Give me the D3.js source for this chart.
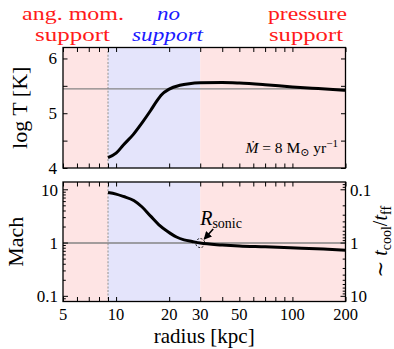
<!DOCTYPE html>
<html><head><meta charset="utf-8">
<script src="https://cdn.jsdelivr.net/npm/d3@7"></script>
<style>
body{margin:0;background:#fff} svg{display:block}
svg text{font-family:"Liberation Serif","DejaVu Serif","Times New Roman",serif;}
</style>
</head><body>
<script>
// ---- data ----
const radiusT = [9, 10, 11, 12.5, 14, 15.7, 17, 18, 20, 23, 26, 30, 40, 50, 70, 100, 140, 200];
const logT    = [4.19, 4.27, 4.42, 4.61, 4.82, 5.05, 5.22, 5.33, 5.44, 5.51, 5.54, 5.555, 5.56, 5.55, 5.52, 5.48, 5.45, 5.42];
const radiusM = [9, 10, 11, 12.6, 14, 15.7, 17.5, 19.6, 22, 24.3, 27, 30, 40, 50, 70, 113, 150, 200];
const mach    = [8.9, 8.3, 7.5, 6.3, 4.8, 3.2, 2.2, 1.65, 1.3, 1.15, 1.07, 1.0, 0.92, 0.88, 0.85, 0.8, 0.77, 0.73];
const xTickLabels = [5, 10, 20, 30, 50, 100, 200];
const xMinorTicks = [6, 7, 8, 9, 40, 60, 70, 80, 90];
const tTickLabels = [4, 5, 6];
const tMinorTicks = [4.5, 5.5];
const machTickLabels = [0.1, 1, 10];
const ratioTickLabels = [0.1, 1, 10];
const regionEdges = [5, 9, 30, 200];
const regionNames = [["ang. mom.", "support"], ["no", "support"], ["pressure", "support"]];
const tReference = 5.445;
const machReference = 1;
const rSonic = 30;

// ---- layout ----
const W = 394, H = 349;
const X0 = 63, X1 = 345.5;
const topP = {y0: 47.5, y1: 168};
const botP = {y0: 182, y1: 301.5};
const pink = "#fee4e4", lav = "#e4e4fb";
const serif = "Liberation Serif";

const svg = d3.select("body").append("svg").attr("width", W).attr("height", H);

const x = d3.scaleLog().domain([5, 200]).range([X0, X1]);
const yT = d3.scaleLinear().domain([4, 6.2]).range([topP.y1, topP.y0]);
const yM = d3.scaleLog().domain([0.08, 14]).range([botP.y1, botP.y0]);
const yR = d3.scaleLog().domain([1/14, 1/0.08]).range([botP.y0, botP.y1]);

function panel(p) {
  const g = svg.append("g");
  const fills = [pink, lav, pink];
  for (let i = 0; i < 3; i++) {
    g.append("rect").attr("x", x(regionEdges[i])).attr("y", p.y0)
      .attr("width", x(regionEdges[i+1]) - x(regionEdges[i])).attr("height", p.y1 - p.y0)
      .attr("fill", fills[i]);
  }
  g.append("line").attr("x1", x(regionEdges[1])).attr("x2", x(regionEdges[1]))
    .attr("y1", p.y0).attr("y2", p.y1).attr("stroke", "#a0a0a0").attr("stroke-width", 1.2)
    .attr("stroke-dasharray", "2,1.6");
  return g;
}
const gTop = panel(topP);
const gBot = panel(botP);

// reference lines
gTop.append("line").attr("x1", X0).attr("x2", X1).attr("y1", yT(tReference)).attr("y2", yT(tReference))
  .attr("stroke", "#858585").attr("stroke-width", 1.4);
gBot.append("line").attr("x1", X0).attr("x2", X1).attr("y1", yM(machReference)).attr("y2", yM(machReference))
  .attr("stroke", "#858585").attr("stroke-width", 1.4);

// curves
const lineT = d3.line().x((d, i) => x(radiusT[i])).y(d => yT(d)).curve(d3.curveMonotoneX);
gTop.append("path").attr("d", lineT(logT)).attr("fill", "none").attr("stroke", "#000").attr("stroke-width", 3);
const lineM = d3.line().x((d, i) => x(radiusM[i])).y(d => yM(d)).curve(d3.curveMonotoneX);
gBot.append("path").attr("d", lineM(mach)).attr("fill", "none").attr("stroke", "#000").attr("stroke-width", 3);

// axes (inward ticks)
function styleAxis(g) {
  g.select(".domain").remove();
  g.selectAll(".tick line").attr("stroke", "#000").attr("stroke-width", 1);
}
function xAxes(p, withLabels) {
  const vals = xTickLabels.concat(xMinorTicks);
  const bAxis = d3.axisBottom(x).tickValues(vals).tickSizeInner(-4.5).tickSizeOuter(0).tickFormat("");
  const tAxis = d3.axisTop(x).tickValues(vals).tickSizeInner(-4.5).tickSizeOuter(0).tickFormat("");
  svg.append("g").attr("transform", `translate(0,${p.y1})`).call(bAxis).call(styleAxis);
  svg.append("g").attr("transform", `translate(0,${p.y0})`).call(tAxis).call(styleAxis);
  if (withLabels) {
    svg.append("g").selectAll("text").data(xTickLabels).join("text")
      .attr("x", d => x(d)).attr("y", 320).attr("text-anchor", "middle")
      .attr("font-family", serif).attr("font-size", 16.5).text(d => d);
  }
}
xAxes(topP, false);
xAxes(botP, true);

// top y axes
const tVals = tTickLabels.concat(tMinorTicks);
svg.append("g").attr("transform", `translate(${X0},0)`)
  .call(d3.axisLeft(yT).tickValues(tVals).tickSizeInner(-4.5).tickSizeOuter(0).tickFormat("")).call(styleAxis);
svg.append("g").attr("transform", `translate(${X1},0)`)
  .call(d3.axisRight(yT).tickValues(tVals).tickSizeInner(-4.5).tickSizeOuter(0).tickFormat("")).call(styleAxis);
svg.append("g").selectAll("text").data(tTickLabels).join("text")
  .attr("x", 57).attr("y", d => yT(d) + 6).attr("text-anchor", "end")
  .attr("font-family", serif).attr("font-size", 17).text(d => d);

// bottom y axes (log)
function logTicks(lo, hi) {
  const out = [];
  for (let e = -2; e <= 2; e++) for (let m = 1; m <= 9; m++) {
    const v = m * Math.pow(10, e);
    if (v >= lo && v <= hi) out.push(v);
  }
  return out;
}
const mAll = logTicks(0.08, 14);
const isMajor = v => Math.abs(Math.log10(v) - Math.round(Math.log10(v))) < 1e-6;
svg.append("g").selectAll("line").data(mAll).join("line")
  .attr("x1", X0).attr("x2", d => X0 + (isMajor(d) ? 5 : 2.8))
  .attr("y1", d => yM(d)).attr("y2", d => yM(d)).attr("stroke", "#000").attr("stroke-width", 1);
const rAll = logTicks(1/14, 1/0.08);
svg.append("g").selectAll("line").data(rAll).join("line")
  .attr("x1", X1).attr("x2", d => X1 - (isMajor(d) ? 5 : 2.8))
  .attr("y1", d => yR(d)).attr("y2", d => yR(d)).attr("stroke", "#000").attr("stroke-width", 1);
svg.append("g").selectAll("text").data(machTickLabels).join("text")
  .attr("x", 58).attr("y", d => yM(d) + 6).attr("text-anchor", "end")
  .attr("font-family", serif).attr("font-size", 17).text(d => d);
svg.append("g").selectAll("text").data(ratioTickLabels).join("text")
  .attr("x", 350).attr("y", d => yR(d) + 6).attr("text-anchor", "start")
  .attr("font-family", serif).attr("font-size", 17).text(d => d);

// frames
[topP, botP].forEach(p => svg.append("rect").attr("x", X0).attr("y", p.y0)
  .attr("width", X1 - X0).attr("height", p.y1 - p.y0)
  .attr("fill", "none").attr("stroke", "#000").attr("stroke-width", 1.3));

// axis labels
svg.append("text").attr("transform", `translate(27,${(topP.y0 + topP.y1)/2}) rotate(-90)`)
  .attr("text-anchor", "middle").attr("font-family", serif).attr("font-size", 22).text("log T [K]");
svg.append("text").attr("transform", `translate(23,${(botP.y0 + botP.y1)/2}) rotate(-90)`)
  .attr("text-anchor", "middle").attr("font-family", serif).attr("font-size", 22).text("Mach");
svg.append("text").attr("x", (X0 + X1)/2).attr("y", 343).attr("text-anchor", "middle")
  .attr("font-family", serif).attr("font-size", 21).text("radius [kpc]");
const rl = svg.append("text").attr("transform", `translate(387,${(botP.y0 + botP.y1)/2}) rotate(-90)`)
  .attr("text-anchor", "middle").attr("font-family", serif).attr("font-size", 20);
rl.append("tspan").text("∼ ");
rl.append("tspan").attr("font-style", "italic").text("t");
rl.append("tspan").attr("font-size", 14).attr("dy", 4).text("cool");
rl.append("tspan").attr("dy", -4).text("/");
rl.append("tspan").attr("font-style", "italic").text("t");
rl.append("tspan").attr("font-size", 14).attr("dy", 4).text("ff");

// region labels
const regColors = ["#ff1a1a", "#1a1aff", "#ff1a1a"];
const regCenters = [[73, 72.5], [168.5, 167.5], [307.5, 306]];
const regWidths = [[102, 75], [23, 71], [79, 74]];
regionNames.forEach((lines, i) => {
  lines.forEach((s, j) => {
    svg.append("text").attr("x", regCenters[i][j]).attr("y", 19.5 + j * 21.5)
      .attr("text-anchor", "middle").attr("font-family", serif).attr("font-size", 19)
      .attr("font-style", i === 1 ? "italic" : "normal")
      .attr("textLength", regWidths[i][j]).attr("lengthAdjust", "spacingAndGlyphs")
      .attr("fill", regColors[i]).text(s);
  });
});

// Mdot label
const md = svg.append("text").attr("x", 338).attr("y", 153).attr("text-anchor", "end")
  .attr("font-family", serif).attr("font-size", 15.5);
md.append("tspan").attr("font-style", "italic").text("Ṁ");
md.append("tspan").text(" = 8 M");
md.append("tspan").attr("font-size", 11).attr("dy", 3).text("⊙");
md.append("tspan").attr("dy", -3).text(" yr");
md.append("tspan").attr("font-size", 11).attr("dy", -6).text("−1");

// sonic point annotation
const sx = x(rSonic), sy = yM(machReference);
svg.append("circle").attr("cx", sx).attr("cy", sy).attr("r", 4.5)
  .attr("fill", "none").attr("stroke", "#000").attr("stroke-width", 0.9).attr("stroke-dasharray", "2,1.5");
svg.append("defs").append("marker").attr("id", "ah").attr("viewBox", "0 0 10 10")
  .attr("refX", 9).attr("refY", 5).attr("markerWidth", 5).attr("markerHeight", 5).attr("orient", "auto")
  .append("path").attr("d", "M0,0 L10,5 L0,10 z").attr("fill", "#000");
svg.append("line").attr("x1", sx + 13).attr("y1", sy - 14).attr("x2", sx + 4).attr("y2", sy - 4)
  .attr("stroke", "#000").attr("stroke-width", 1.6).attr("marker-end", "url(#ah)");
const rs = svg.append("text").attr("x", sx).attr("y", sy - 18.5)
  .attr("font-family", serif).attr("font-size", 20);
rs.append("tspan").attr("font-style", "italic").text("R");
rs.append("tspan").attr("font-size", 14).attr("dy", 3).text("sonic");
</script>
</body></html>
